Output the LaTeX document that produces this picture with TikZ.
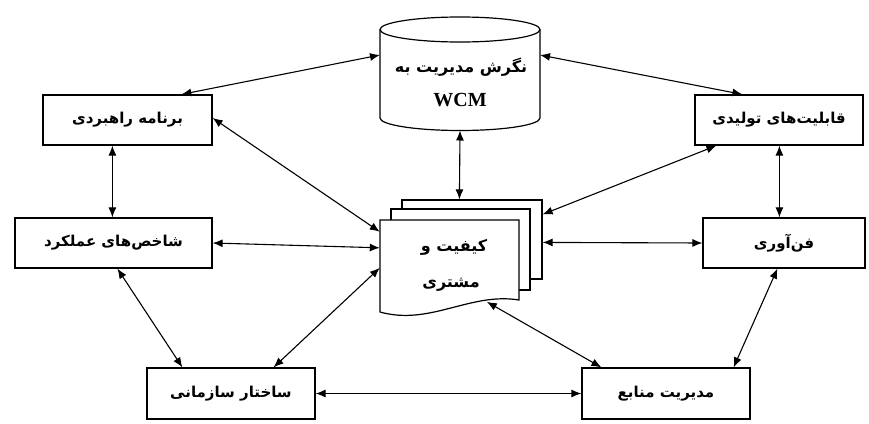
\documentclass[tikz,border=0pt]{standalone}
\usepackage{fontspec}
\setmainfont{Liberation Serif}
\newfontfamily\fa[Script=Arabic]{DejaVu Sans}
\TeXXeTstate=1
\usetikzlibrary{arrows.meta,calc}
\tikzset{
  box/.style={draw, line width=1.2pt, fill=white, inner sep=0pt,
    font=\fa\bfseries\fontsize{15}{17}\selectfont},
  page/.style={draw, line width=1.2pt, fill=white, inner sep=0pt},
  label/.style={inner sep=0pt, font=\fa\bfseries\fontsize{16}{18}\selectfont},
  link/.style={line width=1.1pt, {Latex[length=10pt,width=8pt]}-{Latex[length=10pt,width=8pt]}},
}
\begin{document}
\begin{tikzpicture}[x=1pt,y=-1pt]
\useasboundingbox (0,0) rectangle (869,423);
% boxes
\node[box, minimum width=169pt, minimum height=50pt] (bp) at (127.5,120) {\beginR برنامه راهبردی\endR};
\node[box, minimum width=197pt, minimum height=50pt] (sh) at (113.5,243) {\beginR شاخص‌های عملکرد\endR};
\node[box, minimum width=168pt, minimum height=50pt] (qa) at (779,120) {\beginR قابلیت‌های تولیدی\endR};
\node[box, minimum width=162pt, minimum height=50pt] (fn) at (784,243) {\beginR فن‌آوری\endR};
\node[box, minimum width=168pt, minimum height=51pt] (sa) at (231,393.5) {\beginR ساختار سازمانی\endR};
\node[box, minimum width=168pt, minimum height=51pt] (mm) at (666,393.5) {\beginR مدیریت منابع\endR};
% cylinder
\node[inner sep=0pt, minimum width=160pt, minimum height=113pt] (cyl) at (460,74) {};
\draw[line width=1.2pt, fill=white] (380,29.5) -- (380,118)
  arc[start angle=180, end angle=0, x radius=80, y radius=12.5] -- (540,29.5);
\draw[line width=1.2pt] (460,29.5) ellipse [x radius=80, y radius=12.5];
\node[label] (cyltxt) at (461,67) {\beginR نگرش مدیریت به\endR};
\node[inner sep=0pt, font=\bfseries\fontsize{20}{22}\selectfont] (wcm) at (460,100) {WCM};
% multi-document
\node[page, minimum width=140pt, minimum height=79pt] (back) at (472,239.5) {};
\node[page, minimum width=139pt, minimum height=81pt] (mid) at (460.5,249.5) {};
\node[inner sep=0pt, minimum width=139pt, minimum height=93pt] (front) at (449.5,266.5) {};
\draw[line width=1.2pt, fill=white] (380,220) -- (519,220) -- (519,300)
  .. controls (470,292) and (430,326) .. (380,312) -- cycle;
\node[label] (q1) at (454,247) {\beginR کیفیت و\endR};
\node[label] (q2) at (451,285) {\beginR مشتری\endR};
% connectors
\draw[link] (380,55) -- ($(bp.north west)+(139,0)$);
\draw[link] (540,55) -- ($(qa.north west)+(48,0)$);
\draw[link] (460,130.5) -- ($(back.north west)+(58,0)$);
\draw[link] ($(bp.east)+(0,-2)$) -- ($(front.north west)+(0,12)$);
\draw[link] (sh.east) -- ($(front.north west)+(0,28)$);
\draw[link] ($(sa.north east)+(-42,0)$) -- ($(front.north west)+(0,48)$);
\draw[link] ($(sh.south west)+(103,0)$) -- ($(sa.north west)+(36,0)$);
\draw[link] ($(bp.south west)+(70,0)$) -- ($(sh.north west)+(98,0)$);
\draw[link] ($(qa.south west)+(85,0)$) -- ($(fn.north west)+(77,0)$);
\draw[link] ($(qa.south west)+(22,0)$) -- ($(back.north east)+(0,15)$);
\draw[link] (fn.west) -- ($(back.north east)+(0,43)$);
\draw[link] ($(fn.south west)+(75,0)$) -- ($(mm.north east)+(-17,0)$);
\draw[link] ($(front.north west)+(107,82)$) -- ($(mm.north west)+(20,0)$);
\draw[link] (sa.east) -- (mm.west);
\end{tikzpicture}
\end{document}
